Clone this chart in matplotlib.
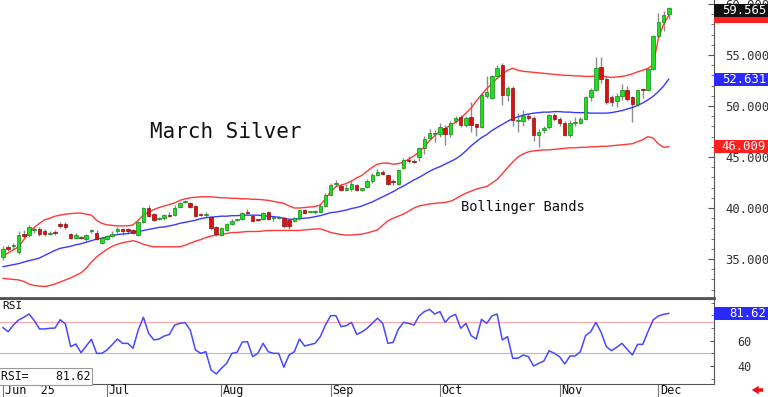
"""March Silver daily candles with Bollinger Bands and RSI."""

import matplotlib

matplotlib.use("Agg")
import matplotlib.pyplot as plt
import matplotlib.transforms as mtransforms
from matplotlib.patches import Rectangle
import numpy as np

MONO = "DejaVu Sans Mono"

# daily bars, early June to Dec 3 (trading-day index)
opens = [35.2, 36.2, 36.3, 35.7, 37.5, 37.4, 37.8, 37.9, 37.7, 37.45,
         37.65, 38.4, 38.4, 37.45, 37.1, 37.15, 36.95, 37.7, 37.6, 36.6,
         37.0, 37.3, 37.7, 37.9, 37.9, 37.8, 37.4, 38.6, 40.0, 39.4,
         38.9, 39.0, 39.3, 39.3, 40.1, 40.6, 40.45, 40.2, 39.35, 39.3,
         39.15, 38.1, 37.4, 37.8, 38.4, 38.8, 38.9, 39.65, 39.2, 38.85,
         38.9, 39.6, 39.0, 39.05, 39.0, 38.8, 38.75, 39.0, 39.8, 39.6,
         39.6, 39.65, 40.2, 41.3, 42.4, 42.2, 41.8, 41.9, 42.25, 41.8,
         42.1, 42.6, 43.2, 43.55, 43.2, 42.6, 42.4, 43.9, 44.75, 44.65,
         45.0, 45.85, 46.9, 47.3, 47.3, 47.8, 47.3, 48.5, 48.95, 48.1,
         48.9, 48.2, 47.9, 51.0, 50.8, 52.9, 54.0, 51.1, 51.8, 48.55,
         48.55, 49.05, 48.8, 47.2, 47.6, 47.9, 49.1, 48.7, 48.3, 47.2,
         48.3, 48.3, 48.7, 50.85, 51.55, 53.8, 52.6, 50.85, 50.5, 51.0,
         51.6, 50.85, 50.2, 51.65, 51.6, 53.6, 56.9, 58.2, 59.0]
highs = [36.3, 36.4, 36.6, 37.7, 37.8, 38.3, 38.1, 38.1, 37.9, 37.7,
         37.8, 38.6, 38.6, 37.6, 37.6, 37.3, 37.5, 37.9, 37.8, 37.2,
         37.4, 37.7, 38.1, 38.0, 38.0, 37.9, 38.7, 40.1, 40.3, 39.5,
         39.1, 39.4, 39.6, 40.3, 40.6, 40.8, 40.6, 40.3, 39.5, 39.6,
         39.2, 38.2, 38.1, 38.5, 38.9, 38.9, 39.6, 39.9, 39.3, 38.95,
         39.6, 39.7, 39.1, 39.2, 39.1, 38.9, 39.1, 39.9, 39.9, 39.7,
         39.8, 40.4, 41.5, 42.5, 42.7, 42.4, 42.4, 42.6, 42.4, 42.0,
         42.8, 43.4, 43.8, 43.7, 43.3, 42.8, 43.8, 44.9, 45.1, 44.8,
         46.0, 47.1, 47.7, 47.6, 48.3, 48.1, 48.5, 49.0, 49.1, 49.0,
         50.4, 48.3, 51.3, 52.9, 53.0, 54.0, 54.2, 52.0, 52.0, 49.3,
         49.6, 49.3, 49.0, 47.7, 48.0, 49.2, 49.3, 48.9, 48.5, 48.6,
         48.9, 48.9, 51.0, 51.8, 54.8, 54.8, 52.9, 51.1, 51.3, 52.2,
         52.0, 51.0, 51.7, 51.8, 53.7, 57.0, 59.1, 59.3, 59.7]
lows = [34.9, 35.8, 36.0, 35.5, 37.1, 37.2, 37.6, 37.3, 37.3, 37.35,
        37.4, 38.0, 37.9, 37.0, 37.0, 37.0, 36.8, 37.6, 36.9, 36.5,
        36.9, 37.2, 37.6, 37.4, 37.5, 37.5, 37.3, 38.5, 39.1, 38.7,
        38.8, 38.8, 39.1, 39.2, 40.0, 40.5, 40.0, 39.1, 39.2, 39.1,
        37.8, 37.3, 37.3, 37.7, 38.3, 38.7, 38.8, 39.4, 38.6, 38.7,
        38.8, 38.8, 38.7, 38.9, 38.0, 37.9, 38.6, 38.8, 39.4, 39.5,
        39.4, 39.6, 40.1, 41.2, 42.2, 41.7, 41.7, 41.7, 41.7, 41.7,
        42.0, 42.5, 43.1, 43.2, 42.3, 42.3, 42.3, 43.8, 44.4, 44.4,
        44.6, 45.3, 46.7, 46.5, 47.0, 46.2, 47.0, 48.3, 47.9, 47.9,
        47.5, 47.1, 47.8, 50.8, 50.7, 52.8, 50.1, 50.5, 48.0, 47.5,
        48.0, 48.6, 46.6, 46.0, 47.4, 47.7, 48.5, 48.0, 47.1, 47.0,
        48.0, 48.2, 48.6, 50.5, 51.5, 52.3, 50.2, 50.0, 49.9, 50.6,
        50.5, 48.45, 50.0, 50.8, 51.5, 53.5, 56.7, 57.4, 58.5]
closes = [36.0, 36.0, 36.4, 37.4, 37.3, 38.1, 37.9, 37.45, 37.5, 37.55,
          37.55, 38.2, 38.1, 37.1, 37.4, 37.1, 37.35, 37.8, 37.0, 37.1,
          37.3, 37.5, 37.9, 37.7, 37.7, 37.6, 38.6, 40.0, 39.25, 38.8,
          39.0, 39.3, 39.2, 40.05, 40.5, 40.65, 40.1, 39.2, 39.3, 39.35,
          38.0, 37.5, 38.0, 38.4, 38.75, 38.85, 39.5, 39.5, 38.7, 38.8,
          39.5, 38.9, 39.05, 39.1, 38.2, 38.2, 39.0, 39.8, 39.5, 39.6,
          39.65, 40.2, 41.3, 42.3, 42.45, 41.8, 42.0, 42.4, 41.8, 41.95,
          42.6, 43.2, 43.55, 43.3, 42.4, 42.55, 43.7, 44.7, 44.65, 44.55,
          45.85, 46.8, 47.4, 47.35, 47.9, 47.3, 48.3, 48.85, 48.1, 48.85,
          48.15, 47.9, 51.1, 51.4, 52.9, 53.75, 51.1, 51.8, 48.6, 48.6,
          49.0, 48.8, 47.15, 47.45, 47.8, 49.1, 48.7, 48.3, 47.2, 48.3,
          48.35, 48.7, 50.85, 51.55, 53.7, 52.6, 50.4, 50.4, 51.0, 51.6,
          50.7, 50.2, 51.6, 51.6, 53.6, 56.9, 58.2, 58.9, 59.565]

# 20-day Bollinger Bands as drawn
band_upper = [35.3, 35.6, 35.9, 36.2, 36.9, 37.6, 38.1, 38.5, 38.85, 39.0,
              39.2, 39.3, 39.4, 39.45, 39.5, 39.5, 39.4, 39.3, 38.8, 38.5,
              38.35, 38.3, 38.25, 38.25, 38.25, 38.35, 38.8, 39.3, 39.6, 39.85,
              40.05, 40.2, 40.35, 40.5, 40.75, 40.9, 41.0, 41.05, 41.1, 41.1,
              41.1, 41.05, 41.0, 41.0, 40.95, 40.95, 40.9, 40.9, 40.85, 40.85,
              40.8, 40.75, 40.65, 40.55, 40.45, 40.2, 40.0, 40.0, 40.05, 40.1,
              40.15, 40.3, 40.9, 41.6, 42.1, 42.25, 42.4, 42.65, 42.95, 43.2,
              43.6, 44.0, 44.3, 44.4, 44.4, 44.3, 44.35, 44.5, 44.8, 45.1,
              45.5, 46.0, 46.6, 47.1, 47.5, 47.8, 48.1, 48.4, 48.8, 49.3,
              49.8, 50.5, 51.1, 51.7, 52.2, 52.7, 53.1, 53.5, 53.7, 53.5,
              53.4, 53.35, 53.3, 53.25, 53.2, 53.15, 53.1, 53.05, 53.0, 53.0,
              52.95, 52.95, 52.9, 52.9, 52.95, 53.0, 52.85, 52.8, 52.85, 52.9,
              53.0, 53.15, 53.35, 53.5, 53.7, 54.0, 56.6, 58.0, 58.9]
band_mid = [34.25, 34.35, 34.45, 34.55, 34.7, 34.85, 34.95, 35.1, 35.35, 35.6,
            35.85, 36.05, 36.15, 36.25, 36.4, 36.5, 36.65, 36.8, 36.95, 37.05,
            37.15, 37.3, 37.4, 37.45, 37.5, 37.6, 37.7, 37.8, 37.9, 38.0,
            38.1, 38.15, 38.25, 38.35, 38.5, 38.6, 38.7, 38.8, 38.95, 39.05,
            39.1, 39.15, 39.2, 39.2, 39.25, 39.25, 39.3, 39.3, 39.3, 39.3,
            39.25, 39.2, 39.15, 39.1, 39.0, 38.9, 38.9, 38.95, 39.0, 39.05,
            39.15, 39.25, 39.4, 39.55, 39.6, 39.7, 39.8, 39.95, 40.05, 40.2,
            40.4, 40.6, 40.85, 41.1, 41.35, 41.6, 41.9, 42.15, 42.45, 42.75,
            43.0, 43.3, 43.6, 43.85, 44.05, 44.3, 44.55, 44.8, 45.15, 45.6,
            46.1, 46.5, 46.9, 47.2, 47.6, 47.9, 48.2, 48.5, 48.75, 48.95,
            49.1, 49.2, 49.3, 49.35, 49.4, 49.4, 49.45, 49.45, 49.4, 49.4,
            49.35, 49.35, 49.35, 49.3, 49.3, 49.3, 49.3, 49.35, 49.45, 49.55,
            49.7, 49.85, 50.05, 50.3, 50.6, 50.95, 51.4, 51.95, 52.631]
band_lower = [33.1, 33.05, 33.0, 32.95, 32.8, 32.55, 32.4, 32.35, 32.3, 32.4,
              32.55, 32.75, 32.95, 33.15, 33.4, 33.65, 34.1, 34.7, 35.2, 35.6,
              35.95, 36.25, 36.45, 36.6, 36.7, 36.8, 36.65, 36.45, 36.3, 36.2,
              36.2, 36.2, 36.2, 36.2, 36.2, 36.35, 36.55, 36.75, 36.9, 37.1,
              37.25, 37.35, 37.4, 37.5, 37.6, 37.6, 37.65, 37.7, 37.7, 37.7,
              37.75, 37.8, 37.8, 37.8, 37.8, 37.8, 37.8, 37.8, 37.85, 37.9,
              37.95, 37.95, 37.8, 37.6, 37.5, 37.4, 37.35, 37.35, 37.4, 37.45,
              37.55, 37.7, 37.85, 38.3, 38.75, 39.0, 39.2, 39.4, 39.7, 40.0,
              40.2, 40.3, 40.4, 40.45, 40.5, 40.55, 40.65, 40.9, 41.2, 41.45,
              41.65, 41.85, 42.0, 42.1, 42.45, 42.8, 43.35, 43.95, 44.5, 45.0,
              45.3, 45.5, 45.6, 45.65, 45.7, 45.7, 45.75, 45.8, 45.85, 45.9,
              45.9, 45.95, 45.95, 46.0, 46.0, 46.05, 46.05, 46.1, 46.15, 46.2,
              46.25, 46.3, 46.5, 46.7, 47.0, 46.85, 46.3, 45.95, 46.009]

rsi = [70.3, 67.1, 72.4, 76.4, 78.5, 81.1, 75.9, 69.3, 69.3, 69.8,
       70.0, 76.6, 73.2, 55.3, 57.4, 50.5, 55.8, 61.1, 50.0, 50.0,
       52.7, 56.9, 61.3, 57.9, 57.9, 54.0, 68.5, 78.5, 65.8, 60.6,
       61.3, 63.7, 65.0, 72.4, 73.7, 74.3, 68.5, 52.7, 50.0, 51.3,
       36.8, 33.7, 38.2, 42.1, 50.0, 50.8, 59.0, 59.2, 47.4, 50.0,
       57.9, 51.3, 50.0, 50.0, 39.0, 48.7, 51.3, 61.3, 55.8, 56.9,
       57.9, 63.2, 72.4, 79.8, 79.8, 71.1, 71.9, 74.5, 65.0, 66.9,
       69.8, 73.7, 77.7, 73.7, 57.9, 58.7, 69.0, 74.5, 73.7, 72.4,
       79.5, 83.0, 84.8, 81.1, 83.0, 74.5, 79.0, 80.8, 69.8, 73.7,
       64.0, 61.3, 76.9, 73.7, 79.5, 81.1, 60.6, 63.2, 46.1, 46.1,
       48.7, 47.4, 40.0, 42.1, 44.0, 52.1, 50.0, 47.4, 41.6, 47.9,
       47.9, 51.3, 64.0, 67.1, 74.5, 66.6, 55.3, 52.1, 54.8, 57.9,
       53.2, 48.7, 57.1, 57.1, 67.1, 76.4, 79.5, 80.8, 81.62]

month_starts = [0, 20, 42, 63, 84, 107, 126]
month_labels = ["Jun  25", "Jul", "Aug", "Sep", "Oct", "Nov", "Dec"]
price_ticks = [35, 40, 45, 50, 55, 60]
rsi_ticks = [40, 60]
rsi_upper_level = 75
rsi_mid_level = 50


def value_box(ax, value, height, face, text=None):
    trans = mtransforms.blended_transform_factory(ax.transAxes, ax.transData)
    ax.add_patch(Rectangle((1.0, value - height / 2), 54 / 714, height, transform=trans,
                           facecolor=face, edgecolor="none", clip_on=False, zorder=6))
    if text:
        ax.text(766 / 714, value, text, transform=trans, ha="right", va="center", color="white",
                fontsize=8.8, family=MONO, clip_on=False, zorder=7)


def main() -> None:
    o, h, l, c = (np.asarray(v, dtype=float) for v in (opens, highs, lows, closes))
    x = np.arange(len(c))
    xlim = (-0.58, 136.7)

    fig = plt.figure(figsize=(7.68, 3.97), dpi=100)
    ax = fig.add_axes([0, 99 / 397, 714 / 768, 298 / 397])
    ax2 = fig.add_axes([0, 13 / 397, 714 / 768, 85 / 397])

    # price panel
    ax.vlines(x, l, h, color="#8c8c8c", lw=1.0, zorder=2)
    ax.plot(x, band_upper, color="#ff3838", lw=1.0, zorder=2.5)
    ax.plot(x, band_lower, color="#ff3838", lw=1.0, zorder=2.5)
    ax.plot(x, band_mid, color="#3a3aff", lw=1.0, zorder=2.5)
    up = c >= o
    body = np.maximum(np.abs(c - o), 0.09)
    base = np.minimum(o, c)
    ax.bar(x[up], body[up], bottom=base[up], width=0.68, color="#22dd22",
           edgecolor="#118a11", lw=0.5, zorder=3)
    ax.bar(x[~up], body[~up], bottom=base[~up], width=0.68, color="#dd1111",
           edgecolor="#8a1111", lw=0.5, zorder=3)

    ax.set_xlim(*xlim)
    ax.set_ylim(31.18, 60.39)
    ax.yaxis.tick_right()
    ax.set_yticks(price_ticks)
    ax.set_yticklabels([f"{t:.3f}" for t in price_ticks], family=MONO)
    ax.set_yticks(np.arange(32, 61, 1), minor=True)
    ax.tick_params(axis="y", which="major", direction="in", length=4, pad=8,
                   labelsize=8.8, labelcolor="#333333", color="#555555")
    ax.tick_params(axis="y", which="minor", direction="in", length=2, color="#555555")
    ax.set_xticks([])
    for side in ("top", "left"):
        ax.spines[side].set_visible(False)
    ax.spines["bottom"].set_color("#555555")
    ax.spines["bottom"].set_linewidth(2)
    ax.spines["right"].set_color("#555555")

    ax.text(150 / 714, 1 - 132 / 298, "March Silver", transform=ax.transAxes,
            family=MONO, fontsize=15, va="center", ha="left", color="#111111")
    ax.text(461 / 714, 1 - 207 / 298, "Bollinger Bands", transform=ax.transAxes,
            family=MONO, fontsize=9.9, va="center", ha="left", color="#111111")

    box_h = 1.27
    # upper band box sits under the close box, only its lower strip shows
    value_box(ax, band_upper[-1] - 0.1, box_h, "#ff2020")
    value_box(ax, closes[-1] - 0.25, box_h, "#111111", f"{closes[-1]:.3f}")
    value_box(ax, band_mid[-1], box_h, "#2a2aff", f"{band_mid[-1]:.3f}")
    value_box(ax, band_lower[-1], box_h, "#ff2020", f"{band_lower[-1]:.3f}")

    # RSI panel
    ax2.axhline(rsi_upper_level, color="#ffaaaa", lw=0.8, zorder=1)
    ax2.axhline(rsi_mid_level, color="#bbbbbb", lw=0.8, zorder=1)
    ax2.plot(x, rsi, color="#4848ff", lw=1.1, zorder=2)
    ax2.set_xlim(*xlim)
    ax2.set_ylim(25.77, 92.96)
    ax2.yaxis.tick_right()
    ax2.set_yticks(rsi_ticks)
    ax2.set_yticklabels([str(t) for t in rsi_ticks], family=MONO)
    ax2.set_yticks(np.arange(30, 91, 10), minor=True)
    ax2.tick_params(axis="y", which="major", direction="in", length=3, pad=17,
                    labelsize=8.5, labelcolor="#333333", color="#555555")
    ax2.tick_params(axis="y", which="minor", direction="in", length=2, color="#555555")
    ax2.set_xticks(month_starts)
    ax2.set_xticklabels([""] * len(month_starts))
    ax2.tick_params(axis="x", direction="out", length=9.4, color="#777777")
    ax2.spines["left"].set_visible(False)
    for side in ("top", "right", "bottom"):
        ax2.spines[side].set_color("#555555")
    ax2.spines["top"].set_linewidth(1.5)

    trans = mtransforms.blended_transform_factory(ax2.transData, ax2.transAxes)
    for pos, lab in zip(month_starts, month_labels):
        ax2.text(pos + 0.35, -0.075, lab, transform=trans, family=MONO, fontsize=8.5,
                 ha="left", va="center", color="#111111", clip_on=False)

    ax2.text(2 / 714, 0.918, "RSI", transform=ax2.transAxes, family=MONO, fontsize=8,
             ha="left", va="center", color="#111111")
    ax2.text(1 / 714, 0.09, f"RSI=    {rsi[-1]:.2f}", transform=ax2.transAxes, family=MONO,
             fontsize=8.3, ha="left", va="center", color="#111111",
             bbox=dict(boxstyle="square,pad=0.15", facecolor="white", edgecolor="#999999", lw=0.8))
    value_box(ax2, rsi[-1], 10.3, "#2a2aff", f"{rsi[-1]:.2f}")

    ax2.annotate("", xy=(749 / 768, 7 / 397), xytext=(766 / 768, 7 / 397),
                 xycoords="figure fraction", textcoords="figure fraction",
                 arrowprops=dict(arrowstyle="simple,head_length=0.5,head_width=0.6,tail_width=0.25",
                                 color="#ee1111", lw=0))

    fig.savefig("out.png", dpi=100)
    plt.close(fig)


if __name__ == "__main__":
    main()
